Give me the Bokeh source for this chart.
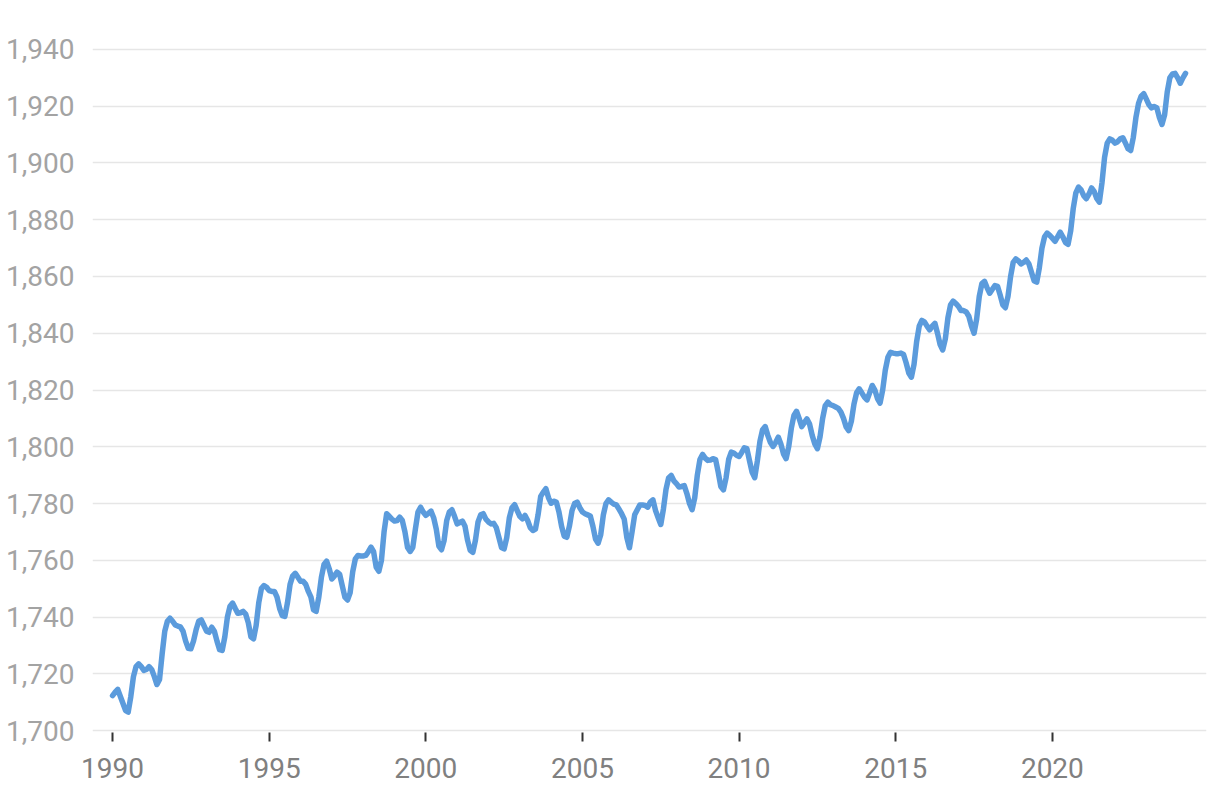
from bokeh.plotting import figure
from bokeh.models import ColumnDataSource, Range1d, SingleIntervalTicker, NumeralTickFormatter
from bokeh.embed import file_html
from bokeh.resources import INLINE

start_year = 1990
# monthly values, Jan 1990 .. Apr 2024
ch4_ppb = [
    1712.3, 1713.5, 1714.5, 1712.0, 1709.5, 1707.0, 1706.5, 1712.0, 1719.0, 1722.5, 1723.5, 1722.5,  # 1990
    1721.2, 1721.5, 1722.5, 1721.5, 1719.0, 1716.2, 1718.0, 1727.0, 1735.0, 1738.5, 1739.6, 1738.5,  # 1991
    1737.2, 1736.8, 1736.5, 1735.0, 1731.5, 1729.0, 1728.8, 1731.5, 1735.5, 1738.5, 1739.0, 1737.0,  # 1992
    1735.0, 1734.6, 1736.4, 1735.0, 1731.5, 1728.5, 1728.2, 1733.0, 1740.0, 1743.8, 1744.9, 1743.0,  # 1993
    1741.3, 1741.5, 1742.0, 1741.0, 1738.0, 1733.0, 1732.3, 1737.0, 1745.0, 1750.0, 1751.1, 1750.5,  # 1994
    1749.3, 1749.0, 1749.0, 1747.0, 1743.0, 1740.5, 1740.2, 1745.0, 1751.5, 1754.5, 1755.4, 1754.0,  # 1995
    1752.6, 1752.6, 1751.5, 1749.0, 1747.0, 1742.5, 1742.0, 1747.0, 1754.0, 1758.5, 1759.7, 1757.0,  # 1996
    1753.4, 1754.5, 1755.8, 1755.0, 1751.0, 1747.0, 1746.0, 1748.5, 1756.0, 1760.5, 1761.7, 1761.5,  # 1997
    1761.5, 1761.7, 1763.0, 1764.6, 1763.0, 1757.5, 1756.1, 1760.0, 1770.0, 1776.4, 1775.5, 1774.5,  # 1998
    1773.8, 1774.0, 1775.2, 1774.0, 1770.0, 1764.5, 1763.1, 1764.5, 1771.0, 1777.0, 1778.7, 1777.0,  # 1999
    1775.8, 1776.5, 1777.3, 1775.0, 1771.0, 1765.0, 1763.7, 1767.0, 1774.0, 1777.0, 1777.8, 1775.5,  # 2000
    1772.8, 1773.3, 1773.8, 1772.0, 1767.0, 1763.5, 1762.8, 1767.0, 1773.5, 1776.0, 1776.4, 1774.5,  # 2001
    1773.5, 1772.8, 1773.0, 1771.5, 1768.0, 1764.5, 1764.0, 1768.0, 1775.0, 1778.5, 1779.6, 1777.5,  # 2002
    1775.5, 1774.6, 1775.8, 1774.0, 1771.5, 1770.5, 1771.0, 1776.0, 1782.5, 1784.0, 1785.2, 1782.0,  # 2003
    1780.1, 1780.8, 1780.5, 1777.0, 1772.0, 1768.5, 1768.1, 1772.0, 1777.5, 1780.0, 1780.5, 1778.5,  # 2004
    1777.0, 1776.4, 1776.0, 1775.6, 1772.0, 1767.5, 1766.0, 1769.0, 1776.0, 1780.0, 1781.3, 1780.5,  # 2005
    1779.8, 1779.5, 1778.0, 1776.4, 1774.5, 1768.0, 1764.4, 1770.0, 1776.0, 1777.8, 1779.5, 1779.5,  # 2006
    1779.3, 1778.7, 1780.5, 1781.3, 1777.5, 1775.0, 1772.6, 1778.0, 1785.0, 1789.0, 1789.9, 1788.0,  # 2007
    1787.0, 1785.8, 1786.0, 1786.3, 1783.5, 1780.0, 1777.8, 1782.0, 1790.0, 1795.5, 1797.3, 1796.0,  # 2008
    1795.2, 1795.3, 1795.8, 1795.5, 1791.0, 1786.0, 1784.8, 1789.0, 1795.5, 1798.1, 1797.8, 1797.0,  # 2009
    1796.6, 1798.0, 1799.6, 1799.3, 1795.0, 1791.0, 1789.1, 1795.0, 1802.0, 1806.0, 1807.1, 1804.0,  # 2010
    1801.5, 1800.1, 1801.5, 1803.4, 1801.0, 1797.5, 1795.8, 1800.0, 1806.5, 1811.0, 1812.5, 1810.0,  # 2011
    1807.1, 1808.5, 1809.8, 1808.0, 1804.0, 1801.0, 1799.3, 1803.5, 1810.0, 1814.5, 1815.7, 1814.8,  # 2012
    1814.5, 1814.0, 1813.5, 1812.2, 1810.0, 1807.0, 1805.7, 1809.0, 1815.0, 1819.0, 1820.4, 1819.0,  # 2013
    1817.5, 1816.5, 1819.0, 1821.6, 1820.0, 1817.0, 1815.4, 1820.0, 1827.0, 1831.5, 1833.3, 1833.0,  # 2014
    1832.8, 1832.8, 1833.0, 1832.5, 1829.5, 1826.0, 1824.5, 1829.0, 1837.0, 1842.5, 1844.5, 1844.0,  # 2015
    1842.5, 1841.2, 1842.5, 1843.5, 1840.0, 1836.0, 1834.1, 1838.0, 1845.5, 1850.0, 1851.3, 1850.5,  # 2016
    1849.5, 1848.0, 1848.0, 1847.5, 1846.0, 1842.5, 1840.0, 1845.0, 1853.0, 1857.5, 1858.3, 1856.0,  # 2017
    1854.1, 1855.5, 1856.8, 1856.5, 1853.5, 1850.0, 1849.0, 1853.0, 1860.0, 1865.0, 1866.2, 1865.5,  # 2018
    1864.4, 1865.0, 1865.8, 1864.5, 1861.5, 1858.5, 1858.0, 1863.0, 1870.0, 1874.0, 1875.3, 1874.5,  # 2019
    1873.5, 1872.4, 1874.0, 1875.6, 1874.0, 1872.0, 1871.3, 1876.0, 1884.0, 1889.5, 1891.5, 1890.5,  # 2020
    1888.5, 1887.4, 1889.0, 1891.2, 1890.0, 1887.5, 1886.2, 1893.0, 1902.0, 1907.0, 1908.5, 1908.0,  # 2021
    1907.0, 1907.5, 1908.5, 1908.9, 1907.0, 1905.0, 1904.4, 1909.0, 1916.0, 1921.0, 1923.5, 1924.4,  # 2022
    1922.5, 1920.5, 1919.4, 1919.9, 1919.5, 1916.0, 1913.6, 1917.0, 1925.0, 1930.0, 1931.4, 1931.6,  # 2023
    1930.0, 1928.1, 1930.0, 1931.6,                                                                  # 2024
]
decimal_year = [start_year + i / 12 for i in range(len(ch4_ppb))]

y_ticks = [1700, 1720, 1740, 1760, 1780, 1800, 1820, 1840, 1860, 1880, 1900, 1920, 1940]
x_tick_interval = 5

source = ColumnDataSource(dict(x=decimal_year, y=ch4_ppb))

p = figure(width=1220, height=798, output_backend="svg", toolbar_location=None,
           x_range=Range1d(1989.36, 2024.92), y_range=Range1d(1699.3, 1940.7),
           min_border_left=92, min_border_right=14, min_border_top=47, min_border_bottom=66)
p.outline_line_color = None
p.background_fill_color = "white"
p.border_fill_color = "white"

p.line("x", "y", source=source, line_width=5.5, line_color="#5b9bdc",
       line_join="round", line_cap="round")

# x axis
p.xaxis.ticker = SingleIntervalTicker(interval=x_tick_interval)
p.xaxis.axis_line_color = None
p.xaxis.major_tick_line_color = "#333333"
p.xaxis.major_tick_line_width = 2
p.xaxis.major_tick_in = 0
p.xaxis.major_tick_out = 9
p.xaxis.minor_tick_line_color = None
p.xaxis.major_label_text_font = "Roboto"
p.xaxis.major_label_text_font_size = "28px"
p.xaxis.major_label_text_color = "#808080"
p.xaxis.major_label_standoff = 16
p.xgrid.grid_line_color = None

# y axis
p.yaxis.ticker = y_ticks
p.yaxis.formatter = NumeralTickFormatter(format="0,0")
p.yaxis.axis_line_color = None
p.yaxis.major_tick_line_color = None
p.yaxis.minor_tick_line_color = None
p.yaxis.major_label_text_font = "Roboto"
p.yaxis.major_label_text_font_size = "28px"
p.yaxis.major_label_text_color = "#a3a3a3"
p.yaxis.major_label_standoff = 12
p.ygrid.grid_line_color = "#e6e6e6"
p.ygrid.grid_line_width = 1.5

open("out.html", "w").write(file_html(p, INLINE))
